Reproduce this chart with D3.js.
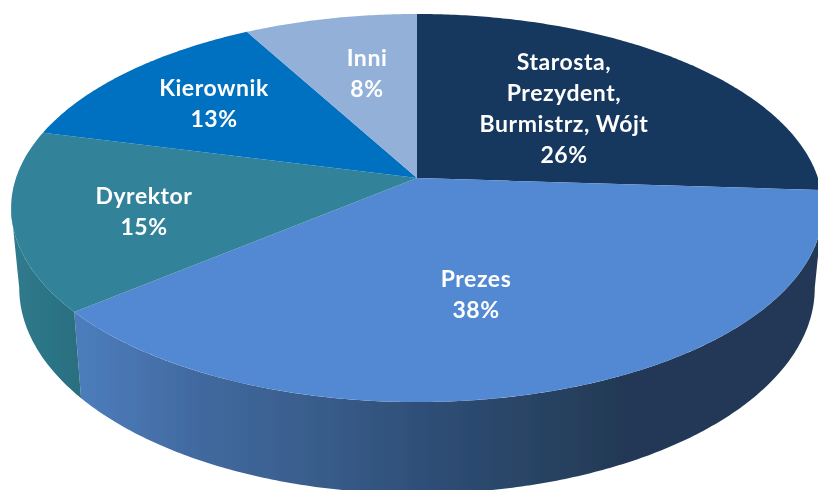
<!DOCTYPE html>
<html>
<head>
<meta charset="utf-8">
<script src="https://cdn.jsdelivr.net/npm/d3@7"></script>
<style>
  html, body { margin: 0; padding: 0; background: #fff; overflow: hidden; }
  svg { display: block; }
</style>
</head>
<body>
<svg id="chart"></svg>
<script>
const categories = ["Starosta, Prezydent, Burmistrz, Wójt", "Prezes", "Dyrektor", "Kierownik", "Inni"];
const values = [26, 38, 15, 13, 8];
const labelLines = [
  ["Starosta,", "Prezydent,", "Burmistrz, Wójt"],
  ["Prezes"],
  ["Dyrektor"],
  ["Kierownik"],
  ["Inni"],
];
const topColors = ["#17375e", "#5389d3", "#31829a", "#0070c0", "#93b0d8"];

const width = 818, height = 490;

// label anchors (x centre, y of first line centre) and line spacing
const labelAnchors = [[564, 62], [476, 279], [144, 196], [214, 88], [367, 58]];
const lineHeight = 31;

// tilted disc: circle seen in perspective, so the hub is not the ellipse centre
const hubX = 417, hubY = 178;
const radiusX = 401, radiusY = 189.4, tilt = 0.1547;
const midY = 208; // middle of the ellipse on screen

const project = (a) => {
  const u = Math.sin(a), v = -Math.cos(a), w = 1 - tilt * v;
  return [hubX + (radiusX * u) / w, hubY + (radiusY * v) / w];
};

// the bottom rim of the side wall
const projectBase = (a) => {
  const [x, y] = project(a);
  return [hubX + (x - hubX) * 0.98, midY + 80 + (y - midY) * 1.06];
};

const svg = d3.select("#chart").attr("width", width).attr("height", height);
const defs = svg.append("defs");

// the reference is a slightly soft screenshot
defs.append("filter")
  .attr("id", "soft")
  .append("feGaussianBlur")
  .attr("stdDeviation", 0.45);

const root = svg.append("g").attr("filter", "url(#soft)");

const pie = d3.pie().sort(null).value((d) => d);
const arcs = pie(values);
const line = d3.line();

const sampleAngles = (a0, a1) => {
  const n = Math.max(2, Math.ceil(Math.abs(a1 - a0) / 0.01));
  return d3.range(n + 1).map((i) => a0 + ((a1 - a0) * i) / n);
};

// widest points of the disc, the wall shows only between these
const rightEdge = Math.PI - Math.acos(0.155);
const leftEdge = 2 * Math.PI - rightEdge;

// Side walls, shaded left to right: [x on screen, colour]
const wallStops = {
  1: [[80, "#4c7dbc"], [200, "#41699f"], [300, "#3a5f8e"], [420, "#2f4f78"], [560, "#27415f"], [620, "#233956"], [818, "#233956"]],
  2: [[15, "#2e7a8c"], [80, "#2a6f80"]],
};

const walls = root.append("g");
arcs.forEach((d, i) => {
  const a0 = Math.max(d.startAngle, rightEdge);
  const a1 = Math.min(d.endAngle, leftEdge);
  if (a0 >= a1) return;
  const angles = sampleAngles(a0, a1);
  const outline = angles.map(project).concat(angles.slice().reverse().map(projectBase));
  const stops = wallStops[i];
  const xScale = d3.scaleLinear().domain([stops[0][0], stops[stops.length - 1][0]]).range([0, 1]);
  const grad = defs.append("linearGradient")
    .attr("id", `wall${i}`)
    .attr("gradientUnits", "userSpaceOnUse")
    .attr("x1", stops[0][0])
    .attr("x2", stops[stops.length - 1][0])
    .attr("y1", 0)
    .attr("y2", 0);
  stops.forEach(([x, c]) => {
    grad.append("stop").attr("offset", xScale(x)).attr("stop-color", c);
  });
  walls.append("path")
    .attr("d", line(outline) + "Z")
    .attr("fill", `url(#wall${i})`);
});

// Top face
root.append("g")
  .selectAll("path")
  .data(arcs)
  .enter()
  .append("path")
  .attr("d", (d) => {
    const pts = sampleAngles(d.startAngle, d.endAngle).map(project);
    return line([[hubX, hubY], ...pts]) + "Z";
  })
  .attr("fill", (d, i) => topColors[i]);

// Labels
const labels = root.append("g")
  .attr("font-family", "Lato, 'Open Sans', sans-serif")
  .attr("font-weight", 700)
  .attr("font-size", 23)
  .attr("letter-spacing", 0.55)
  .attr("fill", "#fff")
  .attr("text-anchor", "middle");

categories.forEach((c, i) => {
  const rows = labelLines[i].concat(`${values[i]}%`);
  rows.forEach((t, j) => {
    labels.append("text")
      .attr("x", labelAnchors[i][0])
      .attr("y", labelAnchors[i][1] + j * lineHeight)
      .attr("dy", "0.35em")
      .text(t);
  });
});
</script>
</body>
</html>
